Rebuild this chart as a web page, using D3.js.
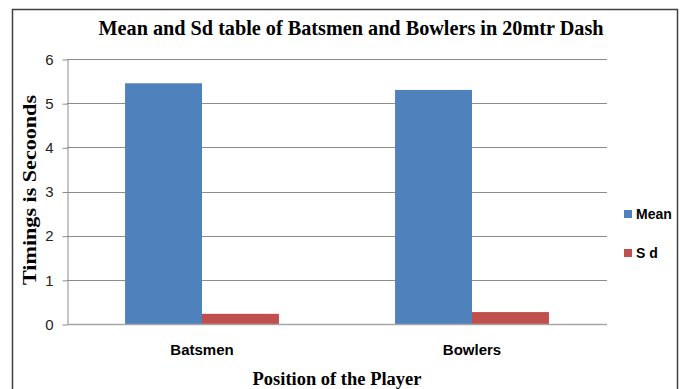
<!DOCTYPE html>
<html>
<head>
<meta charset="utf-8">
<script src="https://cdn.jsdelivr.net/npm/d3@7/dist/d3.min.js"></script>
<style>
  html, body { margin: 0; padding: 0; background: #fff; }
  svg { display: block; }
</style>
</head>
<body>
<svg id="chart" width="684" height="389"></svg>
<script>
// Chart data
const categories = ["Batsmen", "Bowlers"];
const seriesNames = ["Mean", "S d"];
const meanValues = [5.45, 5.30];
const sdValues = [0.23, 0.27];
const yTicks = [0, 1, 2, 3, 4, 5, 6];
const colors = ["#4F81BD", "#C0504D"];

const svg = d3.select("#chart");
const W = 684, H = 389;
const plot = { left: 67, right: 607, top: 59, bottom: 324 };
const serif = "Liberation Serif, Times New Roman, serif";
const sans = "Liberation Sans, Arial, sans-serif";

// outer frame
svg.append("path")
  .attr("d", `M12.5,${H + 2} V9.5 H677.5 V${H + 2}`)
  .attr("fill", "none").attr("stroke", "#404040").attr("stroke-width", 1.5);

const x0 = d3.scaleBand().domain(categories).range([plot.left, plot.right]).paddingInner(0.43).paddingOuter(0.215);
const x1 = d3.scaleBand().domain(seriesNames).range([0, x0.bandwidth()]);
const y = d3.scaleLinear().domain([0, 6]).range([plot.bottom, plot.top]);

// gridlines
svg.append("g").selectAll("line").data(yTicks.filter(d => d > 0)).join("line")
  .attr("x1", plot.left).attr("x2", plot.right)
  .attr("y1", d => Math.round(y(d)) + 0.5).attr("y2", d => Math.round(y(d)) + 0.5)
  .attr("stroke", "#8c8c8c").attr("stroke-width", 1);

// y axis
const yAxis = svg.append("g").attr("transform", `translate(${plot.left + 0.5},0.5)`)
  .call(d3.axisLeft(y).tickValues(yTicks).tickFormat(d3.format("d")).tickSize(5).tickSizeOuter(0).tickPadding(9));
yAxis.select(".domain").attr("stroke", "#8c8c8c");
yAxis.selectAll(".tick line").attr("stroke", "#8c8c8c");
yAxis.selectAll(".tick text").attr("font-family", sans)
  .attr("font-size", 15).attr("fill", "#222");

// bars
const rows = categories.map((c, i) => ({ cat: c, vals: [meanValues[i], sdValues[i]] }));
const groups = svg.append("g").selectAll("g").data(rows).join("g")
  .attr("transform", d => `translate(${x0(d.cat)},0)`);
groups.selectAll("rect").data(d => d.vals.map((v, j) => ({ v, s: seriesNames[j], j }))).join("rect")
  .attr("x", d => x1(d.s)).attr("width", x1.bandwidth())
  .attr("y", d => y(d.v)).attr("height", d => y(0) - y(d.v))
  .attr("fill", d => colors[d.j]);

// x baseline
svg.append("line").attr("x1", plot.left).attr("x2", plot.right)
  .attr("y1", plot.bottom + 0.5).attr("y2", plot.bottom + 0.5)
  .attr("stroke", "#a6a6a6").attr("stroke-width", 1.5);

// category labels
svg.append("g").selectAll("text").data(categories).join("text")
  .attr("x", d => x0(d) + x0.bandwidth() / 2).attr("y", 355)
  .attr("text-anchor", "middle")
  .attr("font-family", sans).attr("font-weight", "bold").attr("font-size", 15)
  .text(d => d);

// title
svg.append("text").attr("x", 351).attr("y", 35).attr("text-anchor", "middle")
  .attr("font-family", serif).attr("font-weight", "bold").attr("font-size", 22)
  .attr("textLength", 505).attr("lengthAdjust", "spacingAndGlyphs")
  .text("Mean and Sd table of Batsmen and Bowlers in 20mtr Dash");

// axis titles
svg.append("text").attr("transform", "translate(36,190) rotate(-90)").attr("text-anchor", "middle")
  .attr("font-family", serif).attr("font-weight", "bold").attr("font-size", 19)
  .attr("textLength", 190).attr("lengthAdjust", "spacingAndGlyphs")
  .text("Timings is Secoonds");
svg.append("text").attr("x", 337).attr("y", 385).attr("text-anchor", "middle")
  .attr("font-family", serif).attr("font-weight", "bold").attr("font-size", 18)
  .attr("textLength", 169).attr("lengthAdjust", "spacingAndGlyphs")
  .text("Position of the Player");

// legend
const legend = svg.append("g").selectAll("g").data(seriesNames).join("g")
  .attr("transform", (d, i) => `translate(624,${210 + i * 39})`);
legend.append("rect").attr("width", 8).attr("height", 8).attr("fill", (d, i) => colors[i]);
legend.append("text").attr("x", 12).attr("y", 9)
  .attr("font-family", sans).attr("font-weight", "bold").attr("font-size", 14)
  .text(d => d);
</script>
</body>
</html>
